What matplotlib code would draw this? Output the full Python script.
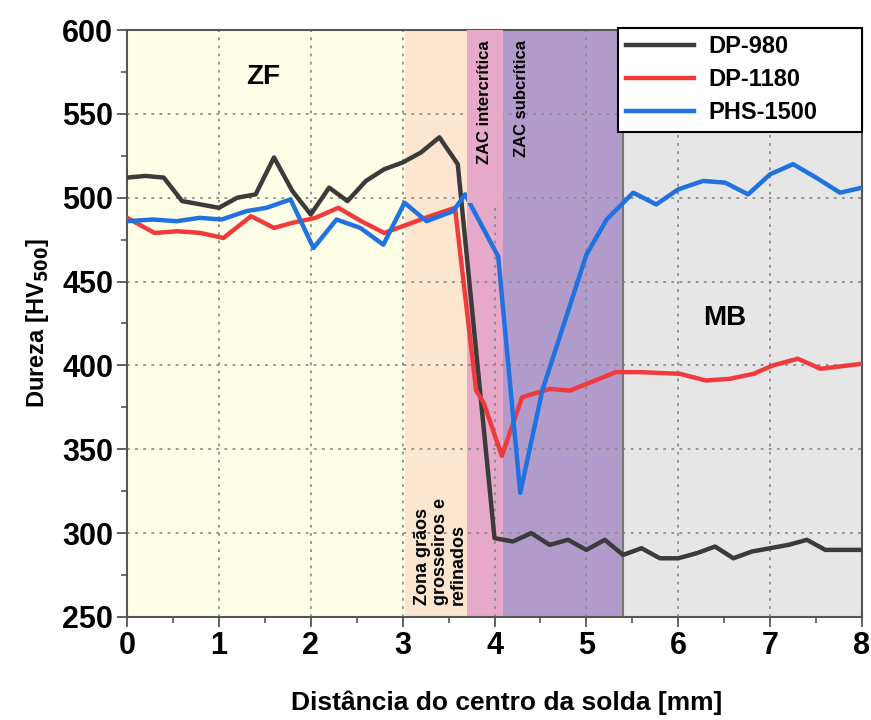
import numpy as np
import matplotlib.pyplot as plt
from matplotlib.patches import Rectangle
from matplotlib.ticker import MultipleLocator

plt.rcParams['font.family'] = ['Liberation Sans', 'DejaVu Sans']
plt.rcParams['font.weight'] = 'bold'

# perfis de dureza
x_980 = [0, 0.2, 0.4, 0.6, 0.8, 1.0, 1.2, 1.4, 1.6, 1.8, 2.0, 2.2, 2.4, 2.6, 2.8, 3.0, 3.2, 3.4, 3.6,
         4.0, 4.2, 4.4, 4.6, 4.8, 5.0, 5.2, 5.4, 5.6, 5.8, 6.0, 6.2, 6.4, 6.6, 6.8, 7.0, 7.2, 7.4, 7.6, 7.8, 8.0]
hv_980 = [512, 513, 512, 498, 496, 494, 500, 502, 524, 504, 490, 506, 498, 510, 517, 521, 527, 536, 520,
          297, 295, 300, 293, 296, 290, 296, 287, 291, 285, 285, 288, 292, 285, 289, 291, 293, 296, 290, 290, 290]

x_1180 = [0, 0.3, 0.55, 0.8, 1.05, 1.35, 1.6, 1.8, 2.05, 2.3, 2.55, 2.8, 3.05, 3.3, 3.57,
          3.8, 3.88, 4.08, 4.3, 4.6, 4.82, 5.05, 5.32, 5.58, 6.02, 6.3, 6.56, 6.82, 7.03, 7.3, 7.55, 8.0]
hv_1180 = [488, 479, 480, 479, 476, 489, 482, 485, 488, 494, 486, 479, 484, 489, 494,
           385, 378, 346, 381, 386, 385, 390, 396, 396, 395, 391, 392, 395, 400, 404, 398, 401]

x_1500 = [0, 0.28, 0.54, 0.79, 1.03, 1.3, 1.52, 1.78, 2.03, 2.28, 2.54, 2.79, 3.02, 3.26, 3.55, 3.68,
          4.04, 4.28, 4.52, 5.0, 5.22, 5.51, 5.76, 6.0, 6.27, 6.51, 6.76, 7.0, 7.25, 7.5, 7.76, 8.0]
hv_1500 = [486, 487, 486, 488, 487, 492, 494, 499, 470, 487, 482, 472, 497, 486, 492, 502,
           465, 324, 385, 466, 487, 503, 496, 505, 510, 509, 502, 514, 520, 512, 503, 506]

# regiões da junta soldada
zonas = [(0.0, 3.03, '#fffee6'), (3.03, 3.70, '#fde6cf'), (3.70, 4.09, '#e6a9c9'),
         (4.09, 5.40, '#b19bcb'), (5.40, 8.0, '#e6e6e6')]

fig = plt.figure(figsize=(8.71, 7.2), dpi=100)
ax = fig.add_axes([0.1458, 0.1431, 0.8439, 0.8152])

for x0, x1, cor in zonas:
    ax.axvspan(x0, x1, color=cor, zorder=0, lw=0)
ax.axvline(5.40, color='#777777', lw=1.5, zorder=1)

ax.grid(True, which='major', color='#8c8c8c', linestyle=(0, (1.5, 3)), lw=1.3, zorder=1)
ax.set_axisbelow(True)

ax.plot(x_980, hv_980, color='#3b3b3b', lw=3.2, label='DP-980', zorder=3)
ax.plot(x_1180, hv_1180, color='#ef3b3b', lw=3.2, label='DP-1180', zorder=3)
ax.plot(x_1500, hv_1500, color='#1f72df', lw=3.2, label='PHS-1500', zorder=3)

# caixa do rótulo da zona intercrítica
ax.add_patch(Rectangle((3.70, 497), 0.39, 103, facecolor='#e6a9c9', edgecolor='none', zorder=4))

ax.text(1.48, 572, 'ZF', fontsize=20, fontweight='bold', ha='center', va='center', zorder=5)
ax.text(6.5, 428, 'MB', fontsize=20, fontweight='bold', ha='center', va='center', zorder=5)
ax.text(3.41, 257, 'Zona grãos\ngrosseiros e\nrefinados', fontsize=13, rotation=90,
        ha='center', va='bottom', multialignment='left', linespacing=1.1, zorder=5)
ax.text(3.89, 594, 'ZAC intercrítica', fontsize=12, rotation=90, ha='center', va='top', zorder=5)
ax.text(4.29, 594, 'ZAC subcrítica', fontsize=12, rotation=90, ha='center', va='top', zorder=5)

ax.set_xlim(0, 8)
ax.set_ylim(250, 600)
ax.xaxis.set_major_locator(MultipleLocator(1))
ax.xaxis.set_minor_locator(MultipleLocator(0.5))
ax.yaxis.set_major_locator(MultipleLocator(50))
ax.yaxis.set_minor_locator(MultipleLocator(25))
ax.tick_params(which='major', direction='out', length=7, width=1.3, color='#555555',
               labelsize=22, pad=3)
ax.tick_params(which='minor', direction='out', length=4, width=1.2, color='#555555')
for lab in ax.get_xticklabels() + ax.get_yticklabels():
    lab.set_fontweight('bold')
for s in ax.spines.values():
    s.set_color('#555555')
    s.set_linewidth(1.5)

ax.set_xlabel('Distância do centro da solda [mm]', fontsize=19, fontweight='bold')
ax.xaxis.set_label_coords(0.516, -0.125)
ax.set_ylabel(r'Dureza [HV$_{\mathbf{500}}$]', fontsize=17, fontweight='bold', labelpad=8)

leg = ax.legend(loc='upper left', bbox_to_anchor=(0.668, 0.0, 0.332, 1.004), mode='expand',
                fontsize=17, handlelength=2.9, frameon=True, fancybox=False, framealpha=1,
                edgecolor='black', borderpad=0.32, labelspacing=0.42, handletextpad=0.6,
                borderaxespad=0)
leg.get_frame().set_linewidth(1.5)
leg.set_zorder(6)
for t in leg.get_texts():
    t.set_fontweight('bold')

fig.savefig('out.png', dpi=100)
